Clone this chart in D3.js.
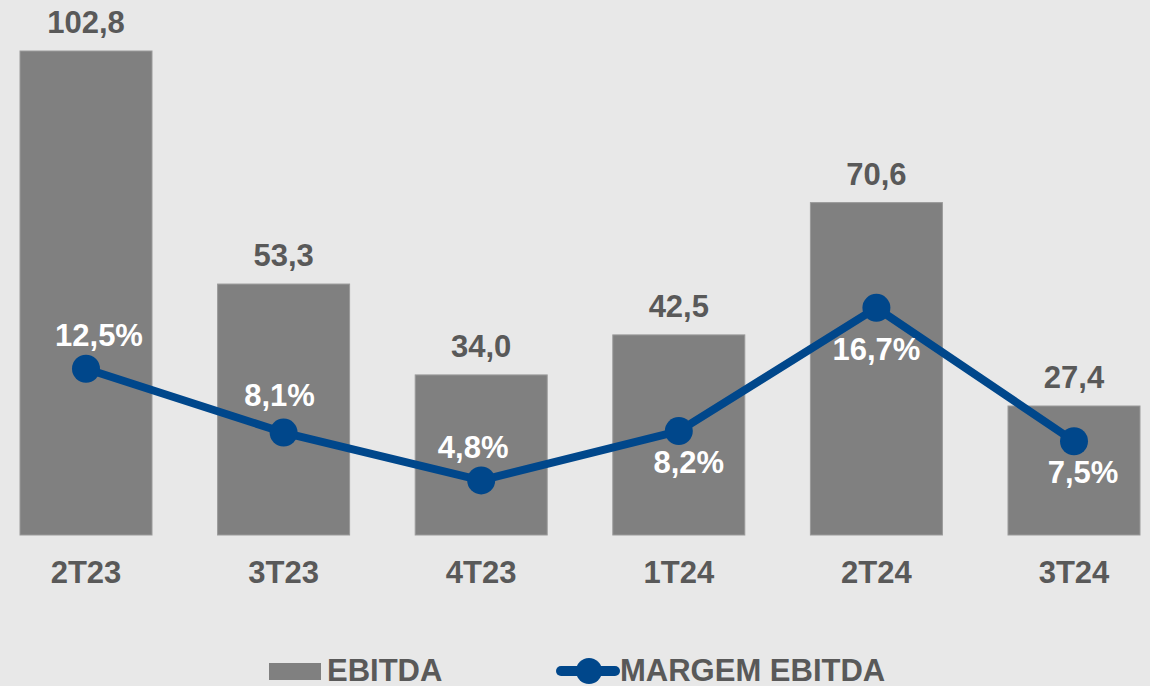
<!DOCTYPE html>
<html>
<head>
<meta charset="utf-8">
<script src="https://cdn.jsdelivr.net/npm/d3@7"></script>
<style>
  html, body { margin: 0; padding: 0; background: #e8e8e8; }
  svg { display: block; font-family: Arial, "Liberation Sans", sans-serif; font-weight: bold; }
</style>
</head>
<body>
<div id="chart"></div>
<script>
// Data
const quarters = ["2T23", "3T23", "4T23", "1T24", "2T24", "3T24"];
const ebitda = [102.8, 53.3, 34.0, 42.5, 70.6, 27.4];
const margem = [12.5, 8.1, 4.8, 8.2, 16.7, 7.5];
const legendNames = ["EBITDA", "MARGEM EBITDA"];

// Canvas Size
const width = 1150, height = 686;
const barColor = "#808080", lineColor = "#00478b", textColor = "#595959";

// hand-placed % labels, like in the original (dx, dy from the point)
const pctNudge = [[13, -23], [-4, -27], [-8, -22], [10, 42], [0, 52], [9, 42]];

const svg = d3.select("#chart")
    .append("svg")
    .attr("width", width)
    .attr("height", height);

svg.append("rect")
    .attr("width", width).attr("height", height)
    .attr("fill", "#e8e8e8");

// Scales
const xScale = d3.scaleBand().domain(quarters).range([20, 1140]).paddingInner(0.332).paddingOuter(0);
const yBar = d3.scaleLinear().domain([0, 102.8]).range([535, 51]);
const yLine = d3.scaleLinear().domain([0, 20]).range([550, 260]);
const cx = d => xScale(d) + xScale.bandwidth() / 2;

// Bars
svg.append("g").selectAll("rect")
    .data(quarters)
    .join("rect")
    .attr("x", d => xScale(d))
    .attr("y", (d, i) => yBar(ebitda[i]))
    .attr("width", xScale.bandwidth())
    .attr("height", (d, i) => yBar(0) - yBar(ebitda[i]))
    .attr("fill", barColor)
    .attr("stroke", "#9a9a9a")
    .attr("stroke-width", 1);

// Bar values
svg.append("g").selectAll("text")
    .data(quarters)
    .join("text")
    .attr("x", d => cx(d))
    .attr("y", (d, i) => yBar(ebitda[i]) - 18)
    .attr("text-anchor", "middle")
    .attr("font-size", 31)
    .attr("fill", textColor)
    .text((d, i) => ebitda[i].toFixed(1).replace(".", ","));

// X axis labels
const xAxis = svg.append("g")
    .attr("transform", `translate(0,${yBar(0)})`)
    .call(d3.axisBottom(xScale).tickSize(0).tickPadding(48));
xAxis.select(".domain").remove();
xAxis.selectAll("text")
    .attr("font-size", 31)
    .attr("font-family", "Arial, 'Liberation Sans', sans-serif")
    .attr("font-weight", "bold")
    .attr("fill", textColor)
    .attr("dy", 0);

// Line
svg.append("path")
    .datum(quarters)
    .attr("fill", "none")
    .attr("stroke", lineColor)
    .attr("stroke-width", 8)
    .attr("stroke-linejoin", "round")
    .attr("d", d3.line()
        .x(d => cx(d))
        .y((d, i) => yLine(margem[i]))
    );

svg.append("g").selectAll("circle")
    .data(quarters)
    .join("circle")
    .attr("cx", d => cx(d))
    .attr("cy", (d, i) => yLine(margem[i]))
    .attr("r", 14)
    .attr("fill", lineColor);

// % labels
svg.append("g").selectAll("text")
    .data(quarters)
    .join("text")
    .attr("x", (d, i) => cx(d) + pctNudge[i][0])
    .attr("y", (d, i) => yLine(margem[i]) + pctNudge[i][1])
    .attr("text-anchor", "middle")
    .attr("font-size", 31)
    .attr("fill", "#ffffff")
    .text((d, i) => margem[i].toFixed(1).replace(".", ",") + "%");

// Legend
const legend = svg.append("g");
legend.append("rect")
    .attr("x", 269).attr("y", 663).attr("width", 52).attr("height", 17)
    .attr("fill", barColor);
legend.append("text")
    .attr("x", 327).attr("y", 681)
    .attr("font-size", 31).attr("fill", textColor)
    .text(legendNames[0]);
legend.append("line")
    .attr("x1", 561).attr("x2", 615).attr("y1", 671).attr("y2", 671)
    .attr("stroke", lineColor).attr("stroke-width", 10).attr("stroke-linecap", "round");
legend.append("circle")
    .attr("cx", 589).attr("cy", 671).attr("r", 13)
    .attr("fill", lineColor);
legend.append("text")
    .attr("x", 620).attr("y", 681)
    .attr("font-size", 31).attr("fill", textColor)
    .text(legendNames[1]);
</script>
</body>
</html>
